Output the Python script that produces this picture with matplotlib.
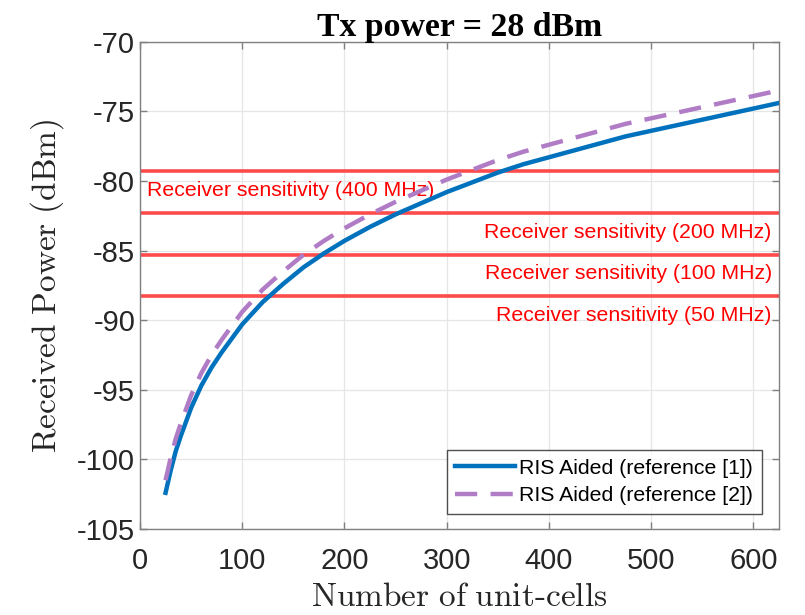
import matplotlib
matplotlib.use("Agg")
import matplotlib.pyplot as plt

# number of unit-cells and received power
cells = [25, 30, 35, 40, 50, 60, 70, 80, 100, 120, 140, 160, 180, 200, 225,
         250, 275, 300, 325, 350, 375, 400, 425, 450, 475, 500, 525, 550, 575,
         600, 625]
power_ref1 = [-102.4, -100.8, -99.4, -98.3, -96.3, -94.7, -93.4, -92.3, -90.3,
              -88.7, -87.4, -86.2, -85.2, -84.3, -83.3, -82.4, -81.6, -80.8,
              -80.1, -79.4, -78.8, -78.3, -77.8, -77.3, -76.8, -76.4, -76.0,
              -75.6, -75.2, -74.8, -74.4]
power_ref2 = [-101.5, -99.9, -98.5, -97.4, -95.4, -93.8, -92.5, -91.4, -89.4,
              -87.8, -86.5, -85.3, -84.3, -83.4, -82.4, -81.5, -80.7, -79.9,
              -79.2, -78.5, -77.9, -77.4, -76.9, -76.4, -75.9, -75.5, -75.1,
              -74.7, -74.3, -73.9, -73.5]

# receiver sensitivity levels (dBm)
bandwidths = ["400 MHz", "200 MHz", "100 MHz", "50 MHz"]
sensitivity = [-79.3, -82.3, -85.3, -88.3]

plt.rcParams['mathtext.fontset'] = 'cm'
plt.rcParams['axes.unicode_minus'] = False
plt.rcParams['font.family'] = ['Liberation Sans', 'DejaVu Sans']

fig = plt.figure(figsize=(8.05, 6.15), dpi=100)
ax = fig.add_axes([0.1739, 0.1398, 0.7938, 0.7924])

red = '#FF4B4B'
for bw, s in zip(bandwidths, sensitivity):
    ax.axhline(s, color=red, linewidth=2.6, zorder=2)
    if bw == "400 MHz":
        ax.text(7, s - 0.7, "Receiver sensitivity (%s)" % bw, color='#FF0000',
                fontsize=15.3, ha='left', va='top', zorder=3)
    else:
        ax.text(618, s - 0.7, "Receiver sensitivity (%s)" % bw, color='#FF0000',
                fontsize=15.3, ha='right', va='top', zorder=3)

ax.plot(cells, power_ref1, color='#0072BD', linewidth=3.2,
        label='RIS Aided (reference [1])', zorder=4)
ax.plot(cells, power_ref2, color='#B07CC6', linewidth=3.2, dashes=(5, 3),
        label='RIS Aided (reference [2])', zorder=5)

ax.set_xlim(0, 625)
ax.set_ylim(-105, -70)
ax.set_xticks(range(0, 601, 100))
ax.set_yticks(range(-105, -69, 5))
ax.grid(True, color='#E6E6E6', linewidth=0.9)
ax.set_axisbelow(True)
ax.tick_params(direction='in', length=5, width=1, colors='#808080',
               labelcolor='#262626', labelsize=21, top=True, right=True)
ax.tick_params(axis='x', pad=13)
for sp in ax.spines.values():
    sp.set_color('#808080')
    sp.set_linewidth(1)

ax.set_xlabel(r'$\mathrm{Number\ of\ unit\text{-}cells}$', fontsize=24, color='#262626', labelpad=5)
ax.set_ylabel(r'$\mathrm{Received\ Power\ (dBm)}$', fontsize=24, color='#262626', labelpad=8)
ax.set_title('Tx power = 28 dBm', fontsize=24.3, fontweight='bold',
             family='Liberation Serif', pad=4)

leg = ax.legend(loc='lower right', fontsize=15.3, frameon=True, fancybox=False,
                edgecolor='#262626', handlelength=2.8, handletextpad=0.2,
                borderpad=0.4, labelspacing=0.4, borderaxespad=0,
                bbox_to_anchor=(0.973, 0.031))
leg.get_frame().set_linewidth(1)

fig.savefig('out.png', dpi=100)
